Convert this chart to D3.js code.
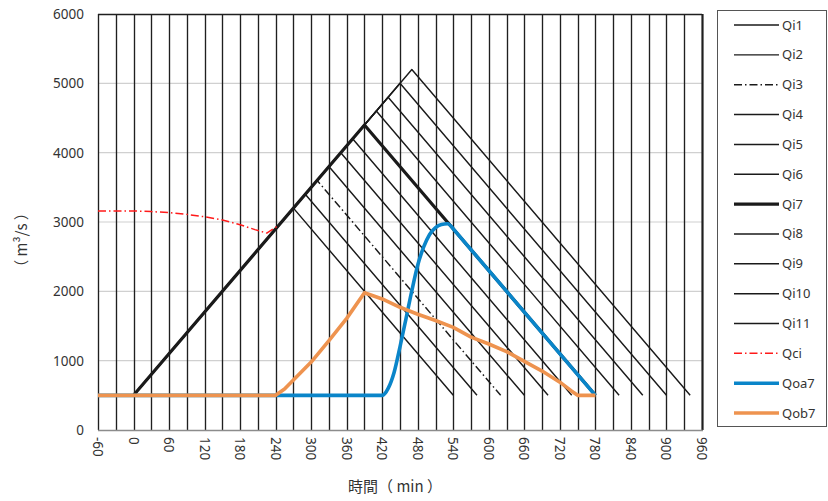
<!DOCTYPE html>
<html>
<head>
<meta charset="utf-8">
<script src="https://cdn.jsdelivr.net/npm/d3@7"></script>
<style>
  body { margin: 0; background: #fff; }
  svg text { font-family: "Noto Sans", "Noto Sans CJK TC", sans-serif; fill: #333; }
</style>
</head>
<body>
<div id="chart"></div>
<script>
// ====================== データ ======================
// Qi1..Qi11: 三角形ハイドログラフ（開始・ピーク・終了）
const qiNames     = ["Qi1","Qi2","Qi3","Qi4","Qi5","Qi6","Qi7","Qi8","Qi9","Qi10","Qi11"];
const qiStartTime = [0, 0, 0, 0, 0, 0, 0, 0, 0, 0, 0];
const qiBaseFlow  = [500, 500, 500, 500, 500, 500, 500, 500, 500, 500, 500];
const qiPeakTime  = [270, 290, 310, 330, 350, 370, 390, 410, 430, 450, 470];
const qiPeakFlow  = [3200, 3400, 3600, 3800, 4000, 4200, 4400, 4600, 4800, 5000, 5200];
const qiEndTime   = [540, 580, 620, 660, 700, 740, 780, 820, 860, 900, 940];

const qciTime = [-60, -30, 0, 30, 60, 90, 120, 150, 180, 205, 225, 245];
const qciFlow = [3160, 3160, 3160, 3150, 3135, 3110, 3075, 3030, 2960, 2890, 2840, 2950];

// Qoa7: 立ち上がり部分は曲線、540分以降は直線
const qoaTime = [-60, 420, 430, 440, 450, 460, 470, 480, 490, 500, 510, 520, 530, 540, 780];
const qoaFlow = [500, 500, 600, 830, 1200, 1600, 2010, 2380, 2640, 2820, 2920, 2965, 2975, 2900, 500];

const qobTime = [-60, 240, 255, 270, 300, 330, 360, 390, 420, 450, 480, 510, 540, 570, 600, 630, 660, 690, 720, 740, 750, 780];
const qobFlow = [500, 500, 590, 720, 980, 1290, 1610, 1980, 1890, 1770, 1670, 1580, 1480, 1340, 1240, 1130, 990, 850, 690, 560, 500, 500];

const xTicks = [-60, 0, 60, 120, 180, 240, 300, 360, 420, 480, 540, 600, 660, 720, 780, 840, 900, 960];
const xLines = d3.range(-60, 961, 30);
const yTicks = [0, 1000, 2000, 3000, 4000, 5000, 6000];

// ====================== 描画 ======================
const W = 828, H = 501;
const L = 98, R = 702, T = 14, B = 430;

const svg = d3.select("#chart").append("svg")
  .attr("width", W).attr("height", H);

const x = d3.scaleLinear().domain([-60, 960]).range([L, R]);
const y = d3.scaleLinear().domain([0, 6000]).range([B, T]);

svg.append("clipPath").attr("id", "clip")
  .append("rect").attr("x", L).attr("y", T - 2).attr("width", R - L).attr("height", B - T + 2);

// 横グリッド
svg.append("g").selectAll("line").data(yTicks.filter(d => d > 0 && d < 6000)).join("line")
  .attr("x1", L).attr("x2", R)
  .attr("y1", d => y(d)).attr("y2", d => y(d))
  .attr("stroke", "#d0d0d0").attr("stroke-width", 1.2);

// 縦線（30分毎）
svg.append("g").selectAll("line").data(xLines).join("line")
  .attr("x1", d => Math.round(x(d)) + 0.5).attr("x2", d => Math.round(x(d)) + 0.5)
  .attr("y1", T).attr("y2", B)
  .attr("stroke", "#1f1f1f").attr("stroke-width", d => d === 960 ? 2.2 : 1.35);

// 上枠・下軸
svg.append("line").attr("x1", L).attr("x2", R).attr("y1", T + 0.5).attr("y2", T + 0.5)
  .attr("stroke", "#1f1f1f").attr("stroke-width", 1.3);
svg.append("line").attr("x1", L).attr("x2", R + 1).attr("y1", B + 0.5).attr("y2", B + 0.5)
  .attr("stroke", "#8c8c8c").attr("stroke-width", 1.6);

// Y軸ラベル
svg.append("g").selectAll("text").data(yTicks).join("text")
  .attr("x", 84).attr("y", d => y(d) + 5)
  .attr("text-anchor", "end").attr("font-size", 13.5)
  .text(d => d);

// X軸ラベル（90度回転）
svg.append("g").selectAll("text").data(xTicks).join("text")
  .attr("transform", d => `translate(${x(d) - 5},437) rotate(90)`)
  .attr("text-anchor", "start").attr("font-size", 13.5)
  .text(d => d);

svg.append("text").attr("x", 395).attr("y", 492)
  .attr("text-anchor", "middle").attr("font-size", 15)
  .style("font-family", "'Noto Sans CJK TC', sans-serif")
  .text("時間（ min ）");

svg.append("text")
  .attr("transform", "translate(27,240) rotate(-90)")
  .attr("text-anchor", "middle").attr("font-size", 15)
  .style("font-family", "'Noto Sans CJK TC', sans-serif")
  .text("（ m³/s ）");

// ====================== 系列 ======================
const lineLin = d3.line().x(d => x(d[0])).y(d => y(d[1]));
const lineMono = d3.line().x(d => x(d[0])).y(d => y(d[1])).curve(d3.curveMonotoneX);
const plot = svg.append("g").attr("clip-path", "url(#clip)");

// 曲線部分（splitまで）+ 直線部分
function pathFor(s) {
  if (s.split == null) return lineLin(s.pts);
  const head = lineMono(s.pts.slice(0, s.split + 1));
  const tail = s.pts.slice(s.split + 1).map(p => `L${x(p[0])},${y(p[1])}`).join("");
  return head + tail;
}

const series = [];
qiNames.forEach((name, i) => {
  series.push({
    name,
    pts: [[qiStartTime[i], qiBaseFlow[i]], [qiPeakTime[i], qiPeakFlow[i]], [qiEndTime[i], qiBaseFlow[i]]],
    color: "#1a1a1a",
    width: name === "Qi7" ? 3.2 : 1.45,
    dash: name === "Qi3" ? "8,3,1.5,3" : null
  });
});
series.push({ name: "Qci", pts: qciTime.map((t, i) => [t, qciFlow[i]]), color: "#ff1a1a", width: 1.5, dash: "8,3,1.5,3" });
series.push({ name: "Qoa7", pts: qoaTime.map((t, i) => [t, qoaFlow[i]]), color: "#0a85c9", width: 3.6, dash: null, split: 13 });
series.push({ name: "Qob7", pts: qobTime.map((t, i) => [t, qobFlow[i]]), color: "#ee934f", width: 3.6, dash: null });

// Qi7 は太線なので細線より上に描く
const drawOrder = series.filter(s => s.name !== "Qi7");
drawOrder.splice(10, 0, series[6]);

drawOrder.forEach(s => {
  plot.append("path")
    .attr("d", pathFor(s))
    .attr("fill", "none")
    .attr("stroke", s.color)
    .attr("stroke-width", s.width)
    .attr("stroke-dasharray", s.dash)
    .attr("stroke-linejoin", "round");
});

// ====================== 凡例 ======================
const leg = svg.append("g");
leg.append("rect").attr("x", 717.5).attr("y", 10.5).attr("width", 109).attr("height", 416)
  .attr("fill", "#fff").attr("stroke", "#555").attr("stroke-width", 1);

series.forEach((s, i) => {
  const ly = 25 + i * 29.85;
  leg.append("line")
    .attr("x1", 734).attr("x2", 779).attr("y1", ly).attr("y2", ly)
    .attr("stroke", s.color).attr("stroke-width", s.width)
    .attr("stroke-dasharray", s.dash);
  leg.append("text").attr("x", 782).attr("y", ly + 4.5)
    .attr("font-size", 13).text(s.name);
});
</script>
</body>
</html>
